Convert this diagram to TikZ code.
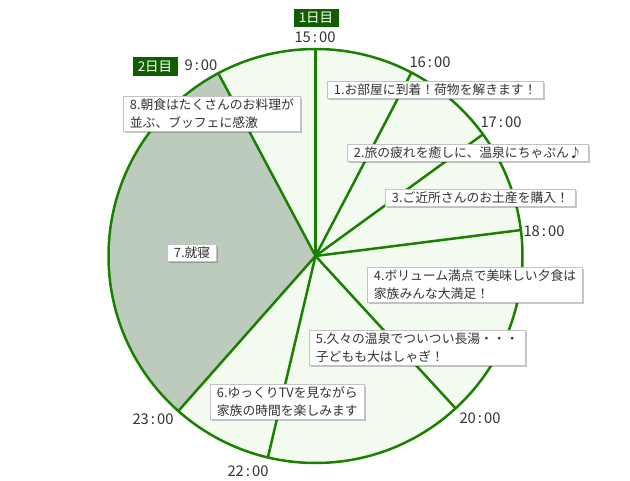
\documentclass[tikz,border=0pt]{standalone}
\usepackage{fontspec}
\setmainfont{Noto Sans CJK JP}
\usetikzlibrary{shadows,calc}
\definecolor{pieline}{RGB}{26,128,0}
\definecolor{piefill}{RGB}{243,250,239}
\definecolor{sleepfill}{RGB}{189,203,189}
\definecolor{badge}{RGB}{16,94,0}
\definecolor{txt}{RGB}{51,51,51}
\definecolor{boxline}{RGB}{195,195,195}
\begin{document}
\begin{tikzpicture}[x=1pt,y=-1pt,
  lbl/.style={draw=boxline, line width=0.8pt, fill=white, text=txt,
    font=\fontsize{12.8}{18}\selectfont, align=left, inner xsep=6.5pt, inner ysep=2.5pt,
    anchor=west, drop shadow={shadow xshift=1.6pt, shadow yshift=-1.6pt, fill=black, opacity=0.22}},
  tlabel/.style={text=txt, font=\fontsize{14.8}{16}\selectfont, inner sep=0pt},
  badgebox/.style={fill=badge, text=white, font=\fontsize{13.5}{15}\selectfont,
    minimum width=45pt, minimum height=18.5pt, inner sep=0pt},
  spoke/.style={draw=pieline, line width=2.5pt},
  rim/.style={draw=pieline, line width=2.5pt}
]
\useasboundingbox (0,0) rectangle (630,481);
\def\R{207}
\coordinate (c) at (315.5,256);
\coordinate (s15) at ($(c)+(-90:\R)$);
\coordinate (s16) at ($(c)+(-62.4:\R)$);
\coordinate (s17) at ($(c)+(-36:\R)$);
\coordinate (s18) at ($(c)+(-7.2:\R)$);
\coordinate (s20) at ($(c)+(47.4:\R)$);
\coordinate (s22) at ($(c)+(103.3:\R)$);
\coordinate (s23) at ($(c)+(131.5:\R)$);
\coordinate (s09) at ($(c)+(242:\R)$);
% pie
\fill[piefill] (c) circle[radius=\R];
\fill[sleepfill] (c) -- (s23) arc[start angle=131.5, end angle=242, radius=\R] -- cycle;
\foreach \s in {s15,s16,s17,s18,s20,s22,s23,s09} \draw[spoke] (c) -- (\s);
\draw[rim] (c) circle[radius=\R];
% time labels
\node[tlabel] (t15) at (315,37) {15{\kern2pt}:{\kern2pt}00};
\node[tlabel] (t16) at (430,62) {16{\kern2pt}:{\kern2pt}00};
\node[tlabel] (t17) at (501,122.5) {17{\kern2pt}:{\kern2pt}00};
\node[tlabel] (t18) at (544,231) {18{\kern2pt}:{\kern2pt}00};
\node[tlabel] (t20) at (480,418.5) {20{\kern2pt}:{\kern2pt}00};
\node[tlabel] (t22) at (248,471) {22{\kern2pt}:{\kern2pt}00};
\node[tlabel] (t23) at (153,419) {23{\kern2pt}:{\kern2pt}00};
\node[tlabel] (t09) at (201,65) {9{\kern2pt}:{\kern2pt}00};
\node[badgebox] (d1) at (316,18) {1日目};
\node[badgebox] (d2) at (155,66.5) {2日目};
% event labels
\node[lbl] (e1) at (327,90) {1.お部屋に到着！荷物を解きます！};
\node[lbl] (e2) at (347,152.5) {2.旅の疲れを癒しに、温泉にちゃぷん♪};
\node[lbl] (e3) at (385,198) {3.ご近所さんのお土産を購入！};
\node[lbl] (e4) at (367,284.5) {4.ボリューム満点で美味しい夕食は\\家族みんな大満足！};
\node[lbl] (e5) at (309,347.5) {5.久々の温泉でついつい長湯・・・\\子どもも大はしゃぎ！};
\node[lbl] (e6) at (210,401.5) {6.ゆっくりTVを見ながら\\家族の時間を楽しみます};
\node[lbl] (e7) at (167,252.5) {7.就寝};
\node[lbl] (e8) at (123,114) {8.朝食はたくさんのお料理が\\並ぶ、ブッフェに感激};
\end{tikzpicture}
\end{document}
